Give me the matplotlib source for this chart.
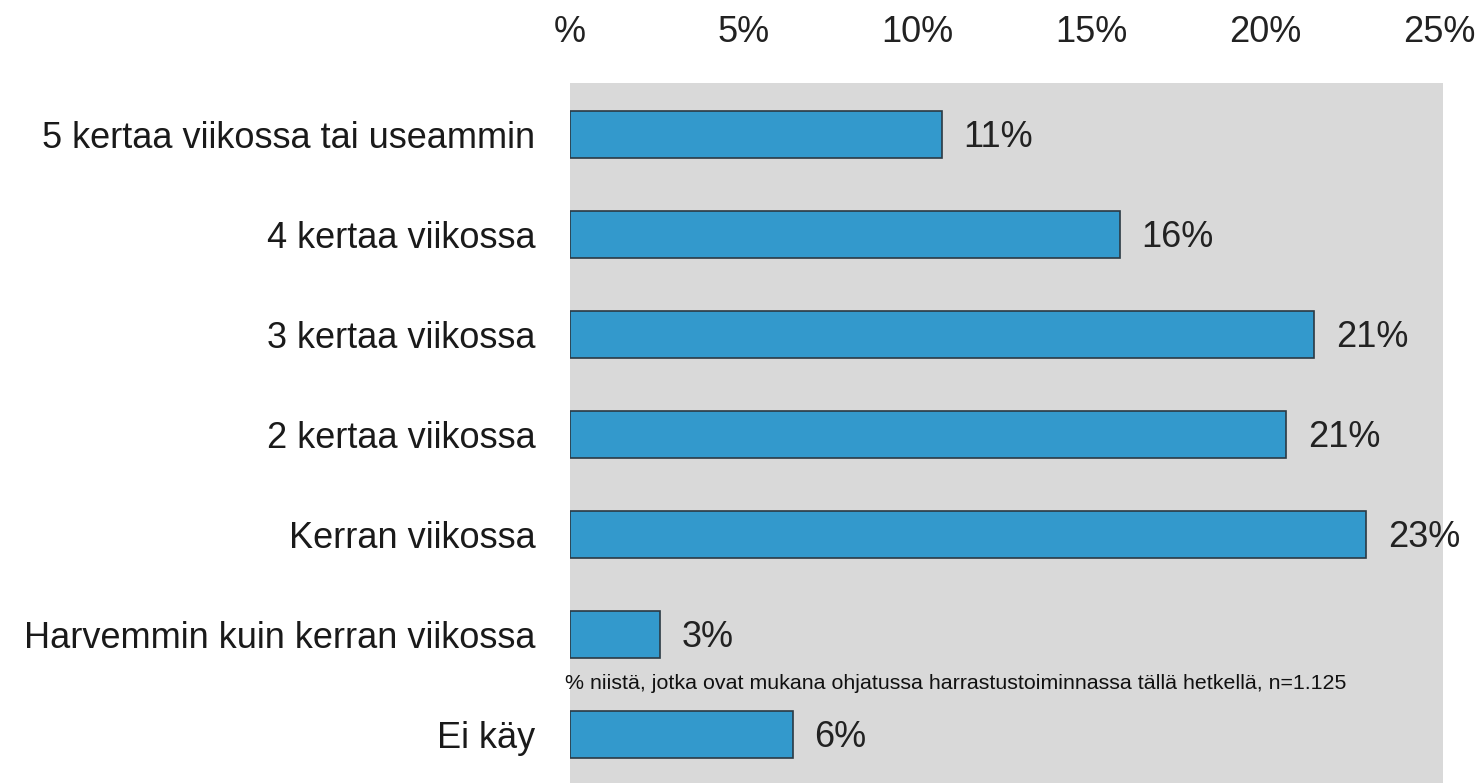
import matplotlib
matplotlib.use("Agg")
import matplotlib.pyplot as plt

categories = ["5 kertaa viikossa tai useammin", "4 kertaa viikossa", "3 kertaa viikossa",
              "2 kertaa viikossa", "Kerran viikossa", "Harvemmin kuin kerran viikossa", "Ei käy"]
values = [10.7, 15.8, 21.4, 20.6, 22.9, 2.6, 6.4]
value_labels = ["11%", "16%", "21%", "21%", "23%", "3%", "6%"]
xticks = [0, 5, 10, 15, 20, 25]
xticklabels = ["%", "5%", "10%", "15%", "20%", "25%"]
footnote = "% niistä, jotka ovat mukana ohjatussa harrastustoiminnassa tällä hetkellä, n=1.125"

plt.rcParams['font.family'] = ['Liberation Sans', 'DejaVu Sans']

fig = plt.figure(figsize=(14.84, 7.83), dpi=100)
ax = fig.add_axes([570/1484, 0, (1443-570)/1484, 1 - 83/783])
ax.set_facecolor("#D9D9D9")

ypos = list(range(len(categories)))
ax.barh(ypos, values, height=0.47, color="#3399CC", edgecolor="#2B3A44", linewidth=1.2)

for y, v, lab in zip(ypos, values, value_labels):
    ax.text(v + 0.62, y + 0.03, lab, va="center", ha="left", fontsize=26, color="#222222")

ax.set_xlim(0, 25.1)
ax.set_ylim(6.48, -0.51)
ax.set_yticks(ypos)
ax.set_yticklabels(categories, fontsize=26, color="#1a1a1a")
ax.set_xticks(xticks)
ax.set_xticklabels(xticklabels, fontsize=26, color="#222222")
ax.xaxis.tick_top()
ax.tick_params(axis="both", length=0)
ax.tick_params(axis="x", pad=24)
ax.tick_params(axis="y", pad=25)
for s in ax.spines.values():
    s.set_visible(False)

ax.text(-0.14, 5.49, footnote, va="center", ha="left", fontsize=15.4, color="#111111")

fig.savefig("out.png", dpi=100)
